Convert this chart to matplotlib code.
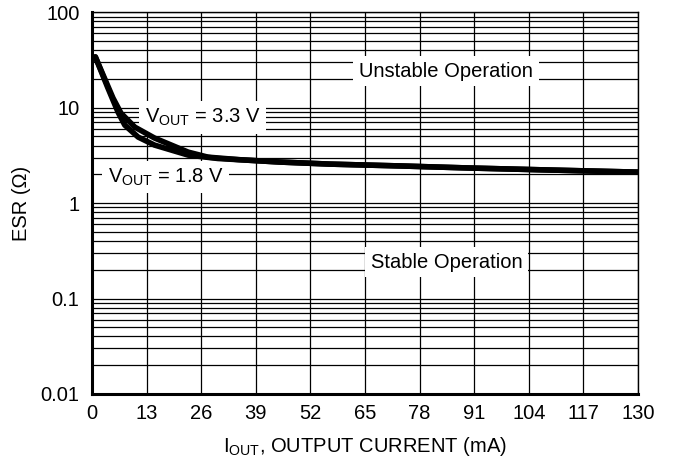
import matplotlib as mpl
mpl.use("Agg")
import matplotlib.pyplot as plt
from matplotlib.ticker import FixedLocator, LogLocator, NullFormatter

mpl.rcParams.update({
    "font.family": "Liberation Sans", "font.size": 15,
    "mathtext.fontset": "custom", "mathtext.rm": "Liberation Sans",
    "mathtext.it": "Liberation Sans", "mathtext.bf": "Liberation Sans",
})

# ── Data ──────────────────────────────────────────────────────────────────────
I_33 = [0.8, 5.0, 6.9, 10.2, 14.9, 22.9, 27.6, 35, 44.8, 56.7, 73.3, 90, 109, 130]
ESR_33 = [34.0, 12.6, 8.75, 6.25, 4.8, 3.42, 3.03, 2.85, 2.69, 2.56, 2.45, 2.33, 2.22, 2.11]

I_18 = [0.8, 3.8, 6.2, 7.8, 11.0, 14.9, 22.9, 30, 44.8, 56.7, 73.3, 90, 109, 130]
ESR_18 = [34.0, 16.0, 8.97, 6.56, 4.91, 4.05, 3.18, 2.93, 2.69, 2.56, 2.45, 2.33, 2.22, 2.11]

X_TICKS = [0, 13, 26, 39, 52, 65, 78, 91, 104, 117, 130]
Y_TICKS = [0.01, 0.1, 1, 10, 100]
Y_TICKLABELS = ["0.01", "0.1", "1", "10", "100"]

FS = 14.5

fig = plt.figure(figsize=(6.73, 4.69), dpi=100)
ax = fig.add_axes([0.1367, 0.160, 0.8113, 0.814])

ax.set_yscale("log")
ax.set_xlim(0, 130)
ax.set_ylim(0.01, 100)

ax.xaxis.set_major_locator(FixedLocator(X_TICKS))
ax.yaxis.set_major_locator(FixedLocator(Y_TICKS))
ax.set_yticklabels(Y_TICKLABELS)
ax.yaxis.set_minor_locator(LogLocator(base=10, subs=range(2, 10)))
ax.yaxis.set_minor_formatter(NullFormatter())

ax.grid(True, which="major", color="black", lw=0.9)
ax.grid(True, which="minor", axis="y", color="black", lw=0.9)
ax.tick_params(which="both", length=0, labelsize=FS)
ax.tick_params(axis="y", pad=9)
ax.tick_params(axis="x", pad=7)

for s in ["left", "bottom"]:
    ax.spines[s].set_linewidth(2.2)
for s in ["top", "right"]:
    ax.spines[s].set_linewidth(1.0)

ax.plot(I_33, ESR_33, color="black", lw=4, solid_capstyle="round", zorder=3)
ax.plot(I_18, ESR_18, color="black", lw=4, solid_capstyle="round", zorder=3)

box = dict(facecolor="white", edgecolor="none", pad=4)
ax.text(84.3, 24, "Unstable Operation", ha="center", va="center",
        fontsize=FS, bbox=box, zorder=4)
ax.text(84.5, 0.24, "Stable Operation", ha="center", va="center",
        fontsize=FS, bbox=box, zorder=4)
ax.text(26.4, 7.9, r"V$_{\mathrm{OUT}}$ = 3.3 V", ha="center", va="center",
        fontsize=FS, bbox=box, zorder=2)
ax.text(17.6, 1.87, r"V$_{\mathrm{OUT}}$ = 1.8 V", ha="center", va="center",
        fontsize=FS, bbox=box, zorder=2)

ax.set_ylabel("ESR (Ω)", fontsize=FS, labelpad=7)
ax.set_xlabel(r"I$_{\mathrm{OUT}}$, OUTPUT CURRENT (mA)", fontsize=FS, labelpad=9)

fig.savefig("out.png", dpi=100)
